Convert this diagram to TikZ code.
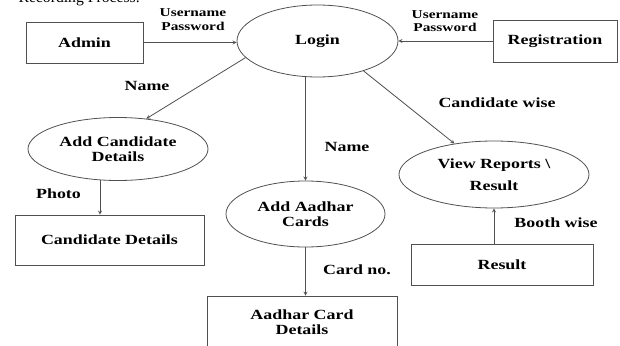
\documentclass[tikz,border=0pt]{standalone}
\usepackage{fontspec}
\setmainfont{Liberation Serif}
\newfontfamily\diagfont[FakeStretch=1.28]{Liberation Serif}
\usepackage{tikz}
\usetikzlibrary{shapes.geometric}
\definecolor{linegray}{HTML}{505050}

\begin{document}
\begin{tikzpicture}[x = 1pt, y = -1pt,
    box/.style = {draw=linegray, line width=.8pt, minimum height=41pt, inner sep=0pt, align=center, font=\diagfont\bfseries\fontsize{14}{15.5}\selectfont},
    oval/.style = {ellipse, draw=linegray, line width=.8pt, inner sep=0pt, align=center, font=\diagfont\bfseries\fontsize{14}{15.5}\selectfont},
    flowlabel/.style = {align=center, font=\diagfont\bfseries\fontsize{14}{15.5}\selectfont},
    flow/.style = {draw=linegray, line width=.8pt, -stealth}]
        \useasboundingbox (0,0) rectangle (620,345);
        \node[anchor=base west, font=\fontsize{15.7}{18}\selectfont] (title) at (15,2.5) {Recording Process.};
        \node[box, minimum width=117pt] (admin) at (84.5,42.5) {Admin};
        \node[box, minimum width=124pt, minimum height=42pt] (registration) at (555,41) {Registration};
        \node[oval, minimum width=161pt, minimum height=72pt] (login) at (317.5,41) {Login};
        \node[oval, minimum width=180pt, minimum height=63pt] (addcand) at (118,149) {Add Candidate\\Details};
        \node[box, minimum width=189pt, minimum height=50pt] (canddetails) at (109.5,240) {Candidate Details};
        \node[oval, minimum width=159pt, minimum height=66pt] (addaadhar) at (305.5,214) {Add Aadhar\\Cards};
        \node[box, minimum width=190pt, minimum height=52pt] (aadhardetails) at (302,322) {Aadhar Card\\Details};
        \node[oval, minimum width=190pt, minimum height=67pt, font=\diagfont\bfseries\fontsize{14}{22}\selectfont] (viewreports) at (494,174.5) {View Reports \textbackslash\\Result};
        \node[box, minimum width=182pt] (result) at (502,264.5) {Result};
        \node[flowlabel, font=\diagfont\bfseries\fontsize{12}{13.4}\selectfont] (userleft) at (193,19.5) {Username\\Password};
        \node[flowlabel, font=\diagfont\bfseries\fontsize{12}{13.4}\selectfont] (userright) at (445,21) {Username\\Password};
        \node[flowlabel] (nameleft) at (147,86) {Name};
        \node[flowlabel] (candwise) at (497,103) {Candidate wise};
        \node[flowlabel] (namemid) at (347,147) {Name};
        \node[flowlabel] (photo) at (58.5,194) {Photo};
        \node[flowlabel] (cardno) at (357,270) {Card no.};
        \node[flowlabel] (boothwise) at (556,223) {Booth wise};
        \draw[flow] (admin.east) -- (admin.east -| login.west);
        \draw[flow] (registration.west) -- (registration.west -| login.east);
        \draw[flow] (login.193) -- (addcand.47);
        \draw[flow] (addaadhar.north |- login.south) -- (addaadhar.north);
        \draw[flow] (login.327) -- (viewreports.142);
        \draw[flow] (addcand.240) -- (addcand.240 |- canddetails.north);
        \draw[flow] (addaadhar.south) -- (addaadhar.south |- aadhardetails.north);
        \draw[flow] (result.north -| viewreports.south) -- (viewreports.south);
      \end{tikzpicture}
\end{document}
